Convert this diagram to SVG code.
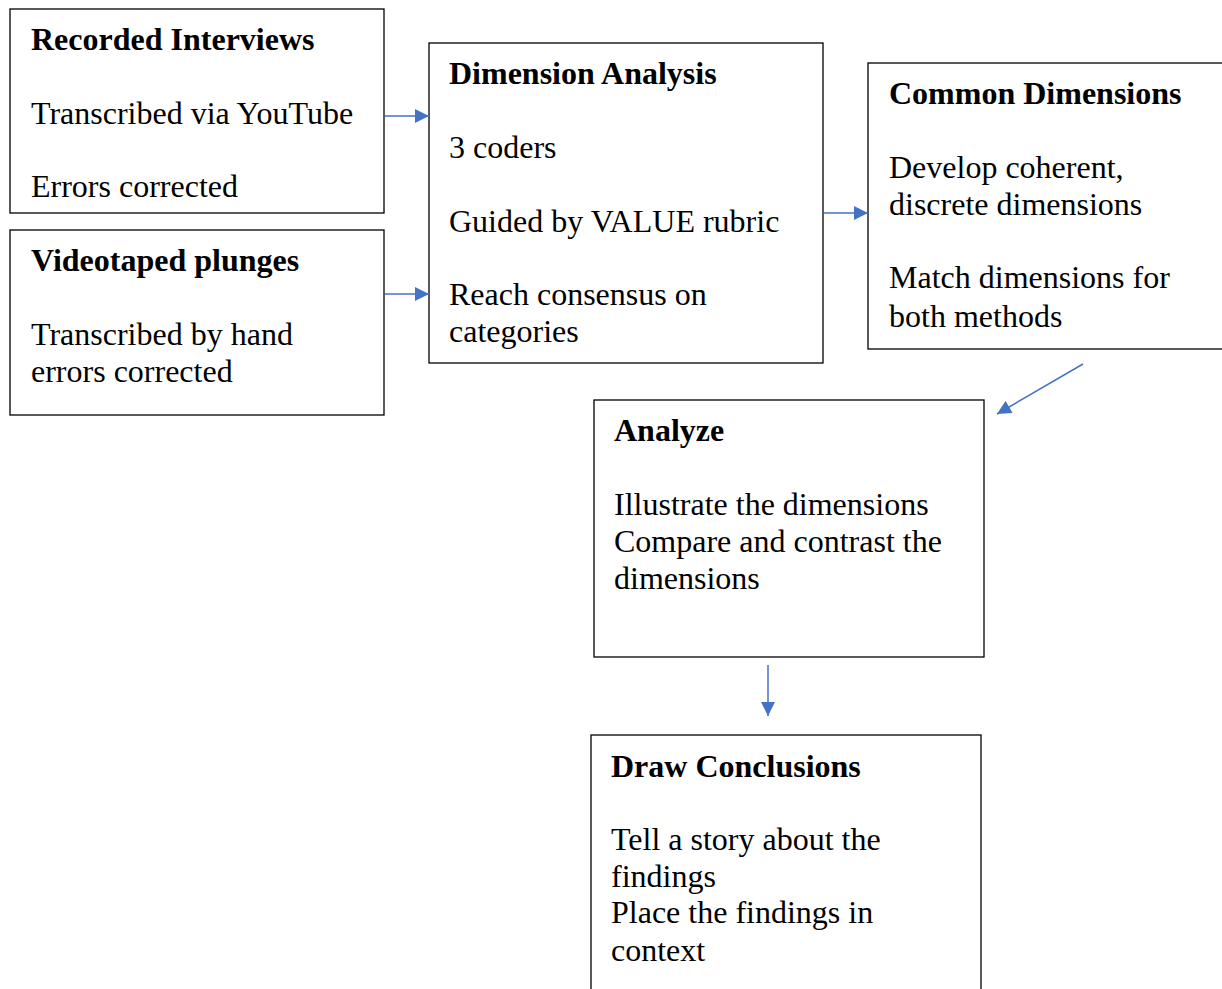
<svg xmlns="http://www.w3.org/2000/svg" width="1222" height="989" viewBox="0 0 1222 989">
<defs>
<style>
.box{fill:#fff;stroke:#000;stroke-width:1.3}
.t{font-family:'Liberation Serif','Times New Roman',Times,serif;font-size:32px;fill:#000}
.b{font-weight:bold}
.c{stroke:#4472C4;stroke-width:1.5;fill:none;marker-end:url(#ah)}
</style>
<marker id="ah" viewBox="0 0 10 10" refX="10" refY="5" markerWidth="15" markerHeight="14" markerUnits="userSpaceOnUse" orient="auto">
<path d="M0,0 L10,5 L0,10 Z" fill="#4472C4"/>
</marker>
</defs>
<rect width="1222" height="989" fill="#fff"/>
<g id="n1" class="t">
<rect class="box" x="10" y="9" width="374" height="204"/>
<text class="b" x="31" y="50">Recorded Interviews</text>
<text x="31" y="124">Transcribed via YouTube</text>
<text x="31" y="197">Errors corrected</text>
</g>
<g id="n2" class="t">
<rect class="box" x="10" y="230" width="374" height="185"/>
<text class="b" x="31" y="271">Videotaped plunges</text>
<text x="31" y="345">Transcribed by hand</text>
<text x="31" y="382">errors corrected</text>
</g>
<g id="n3" class="t">
<rect class="box" x="429" y="43" width="394" height="320"/>
<text class="b" x="449" y="84">Dimension Analysis</text>
<text x="449" y="158">3 coders</text>
<text x="449" y="232">Guided by VALUE rubric</text>
<text x="449" y="305">Reach consensus on</text>
<text x="449" y="342">categories</text>
</g>
<g id="n4" class="t">
<rect class="box" x="868" y="63" width="370" height="286"/>
<text class="b" x="889" y="104">Common Dimensions</text>
<text x="889" y="178">Develop coherent,</text>
<text x="889" y="215">discrete dimensions</text>
<text x="889" y="288">Match dimensions for</text>
<text x="889" y="327">both methods</text>
</g>
<g id="n5" class="t">
<rect class="box" x="594" y="400" width="390" height="257"/>
<text class="b" x="614" y="441">Analyze</text>
<text x="614" y="515">Illustrate the dimensions</text>
<text x="614" y="552">Compare and contrast the</text>
<text x="614" y="589">dimensions</text>
</g>
<g id="n6" class="t">
<rect class="box" x="591" y="735" width="390" height="270"/>
<text class="b" x="611" y="777">Draw Conclusions</text>
<text x="611" y="850">Tell a story about the</text>
<text x="611" y="887">findings</text>
<text x="611" y="923">Place the findings in</text>
<text x="611" y="961">context</text>
</g>
<g id="connectors">
<line class="c" x1="385" y1="116" x2="429" y2="116"/>
<line class="c" x1="385" y1="294" x2="429" y2="294"/>
<line class="c" x1="824" y1="213" x2="868" y2="213"/>
<line class="c" x1="1083" y1="364" x2="997" y2="414"/>
<line class="c" x1="768" y1="665" x2="768" y2="716"/>
</g>
</svg>
